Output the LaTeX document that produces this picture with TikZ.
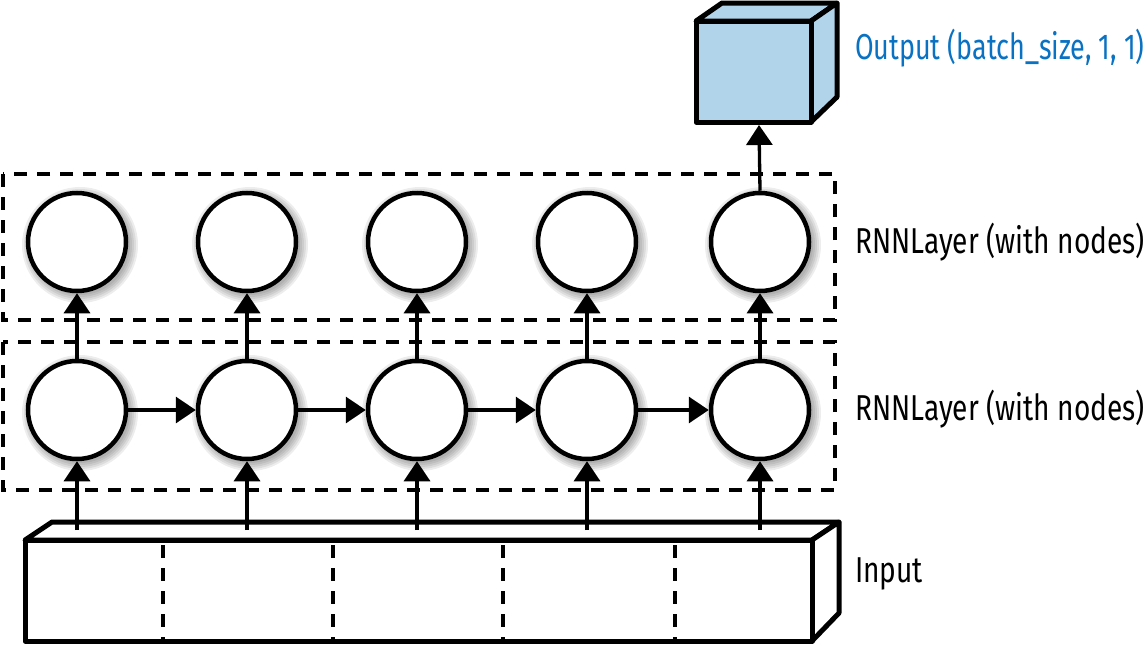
\documentclass[tikz,border=0pt]{standalone}
\usepackage{fontspec}
\setmainfont[FakeStretch=0.78]{Fira Sans}
\usetikzlibrary{arrows.meta}
\definecolor{cubeblue}{HTML}{B2D4EB}
\definecolor{labelblue}{HTML}{0A72C2}
\tikzset{
  neuron/.style={circle,draw=black,line width=4.5pt,fill=white,minimum size=98pt,inner sep=0pt},
  layerbox/.style={draw=black,line width=4.5pt,dash pattern=on 13pt off 10pt},
  conn/.style={line width=3.3pt,-{Triangle[width=26pt,length=20pt]}},
  solidedge/.style={line width=5pt,line join=round},
  divider/.style={line width=4pt,dash pattern=on 13pt off 10pt},
  lab/.style={anchor=base west,font=\fontsize{36}{38}\selectfont,inner sep=0pt},
}
\begin{document}
\begin{tikzpicture}[x=1pt,y=-1pt]
\useasboundingbox (0,0) rectangle (1148,645);
% dashed layer boxes
\draw[layerbox] (3,174) rectangle (835,320);
\draw[layerbox] (3,342) rectangle (835,490);
% input box
\draw[solidedge,fill=white] (25,540) -- (52,522) -- (839,522) -- (812,540) -- cycle;
\draw[solidedge,fill=white] (812,540) -- (839,522) -- (839,613) -- (812,641) -- cycle;
\draw[solidedge,fill=white] (25,540) rectangle (812,641);
\foreach \x in {163,333,503,675} \draw[divider] (\x,545) -- (\x,641);
\foreach \i/\x in {1/77,2/247,3/417,4/587,5/760} \coordinate (in\i) at (\x,530);
% cube
\draw[solidedge,fill=cubeblue] (696,21) -- (722,3) -- (837,3) -- (811,21) -- cycle;
\draw[solidedge,fill=cubeblue] (811,21) -- (837,3) -- (837,97) -- (811,122) -- cycle;
\draw[solidedge,fill=cubeblue] (696,21) rectangle (811,122);
\coordinate (cubebot) at (759,125);
% soft shadows
\foreach \x in {77,247,417,587,760} \foreach \y in {242,410} {
  \foreach \r in {58,56,...,49} \fill[black,opacity=0.07] (\x+3,\y+3) circle (\r pt);
}
% neurons
\foreach \i/\x in {1/77,2/247,3/417,4/587,5/760} {
  \node[neuron] (b\i) at (\x,410) {};
  \node[neuron] (t\i) at (\x,242) {};
}
% arrows
\foreach \i in {1,...,5} {
  \draw[conn] (in\i) -- (b\i.south);
  \draw[conn] (b\i.north) -- (t\i.south);
}
\foreach \i/\j in {1/2,2/3,3/4,4/5} \draw[conn] (b\i.east) -- (b\j.west);
\draw[conn] (t5.north) -- (cubebot);
% labels
\node[lab,text=labelblue] (outlab) at (855,59) {\scalebox{0.96}[1]{Output (batch\_size, 1, 1)}};
\node[lab] (l1) at (855,253) {RNNLayer (with nodes)};
\node[lab] (l2) at (855,420) {RNNLayer (with nodes)};
\node[lab] (inlab) at (855,582) {Input};
\end{tikzpicture}
\end{document}
